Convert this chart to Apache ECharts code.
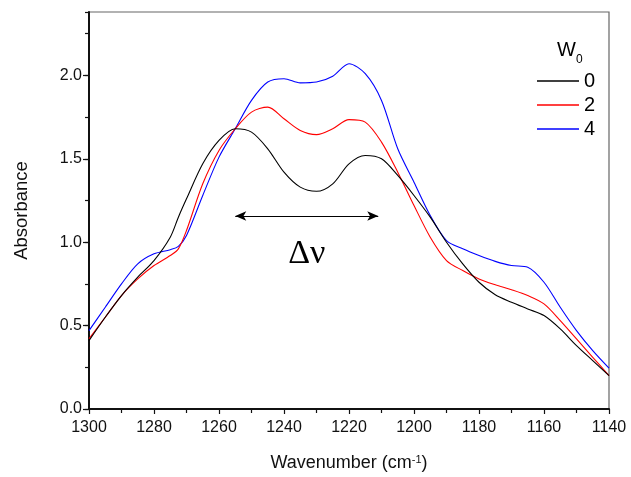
<!DOCTYPE html>
<html>
<head>
<meta charset="utf-8">
<script src="https://cdn.jsdelivr.net/npm/echarts@6/dist/echarts.min.js"></script>
<style>html,body{margin:0;padding:0;background:#fff}#c{width:631px;height:477px}</style>
</head>
<body>
<div id="c"></div>
<script>
// ---- data ----
const wavenumbers = [1300,1295,1290,1285,1280,1275,1272.5,1270,1265,1260,1255,1250,1245,1240,1235,1230,1225,1220,1215,1210,1205,1200,1195,1190,1185,1180,1175,1170,1165,1160,1155,1150,1145,1140];
const absW0 = [0.41,0.55,0.68,0.79,0.89,1.03,1.15,1.26,1.47,1.61,1.68,1.66,1.56,1.42,1.33,1.305,1.35,1.47,1.52,1.50,1.40,1.28,1.15,1.00,0.87,0.76,0.685,0.64,0.60,0.56,0.48,0.38,0.29,0.20];
const absW2 = [0.42,0.55,0.68,0.78,0.86,0.92,0.96,1.07,1.35,1.55,1.68,1.78,1.81,1.74,1.67,1.645,1.68,1.735,1.72,1.60,1.42,1.22,1.03,0.89,0.83,0.78,0.745,0.715,0.68,0.63,0.53,0.42,0.31,0.20];
const absW4 = [0.47,0.61,0.75,0.87,0.93,0.955,0.975,1.04,1.28,1.51,1.68,1.85,1.96,1.98,1.955,1.96,1.995,2.07,2.01,1.85,1.56,1.36,1.16,1.01,0.96,0.92,0.885,0.86,0.85,0.76,0.61,0.47,0.35,0.245];
const seriesNames = ['0','2','4'];
const seriesColors = ['#000000','#ff0000','#0000ff'];
const arrowSpan = [1255, 1211];   // wavenumbers of the double arrow ends
const arrowLevel = 1.157;         // absorbance level of the arrow
const deltaLabelAt = [1233, 0.93];
const xTicks = {min:1140, max:1300, step:20};
const yTicks = {min:0, max:2.38, step:0.5};

const pairs = v => wavenumbers.map((w,i)=>[w, v[i]]);
const allSeries = [absW0, absW2, absW4].map((v,i)=>({
  name: seriesNames[i], type:'line', data: pairs(v), symbol:'none', smooth:0.3,
  lineStyle:{color:seriesColors[i], width:1.1}, itemStyle:{color:seriesColors[i]},
  z: 3 - i
}));
allSeries[0].markLine = {
  silent:true, symbol:['arrow','arrow'], symbolSize:[7,11], animation:false,
  lineStyle:{color:'#000', width:1, type:'solid'}, label:{show:false},
  data:[[{coord:[arrowSpan[0], arrowLevel]},{coord:[arrowSpan[1], arrowLevel]}]]
};
allSeries[0].markPoint = {
  silent:true, symbol:'circle', symbolSize:1, itemStyle:{color:'rgba(0,0,0,0)'}, animation:false,
  label:{show:true, position:'inside', formatter:'Δν', color:'#000', fontFamily:'Liberation Serif', fontSize:34},
  data:[{coord:deltaLabelAt}]
};

const chart = echarts.init(document.getElementById('c'), null, {renderer:'canvas'});
chart.setOption({
  animation:false,
  backgroundColor:'#fff',
  textStyle:{fontFamily:'Liberation Sans, Arial, sans-serif'},
  title:{
    text:'{w|W}{s|0}', left:552, top:35,
    textStyle:{fontWeight:'normal', rich:{
      w:{fontSize:20, color:'#000', fontWeight:'normal', lineHeight:26, verticalAlign:'top', fontFamily:'Liberation Sans'},
      s:{fontSize:12, color:'#000', fontWeight:'normal', lineHeight:6, verticalAlign:'bottom', fontFamily:'Liberation Sans'}
    }}
  },
  legend:{
    orient:'vertical', left:537, top:69, padding:0, itemWidth:42, itemHeight:1.4, itemGap:0,
    icon:'rect',
    textStyle:{fontSize:20, color:'#000', lineHeight:24, fontFamily:'Liberation Sans'},
    data:seriesNames
  },
  grid:{left:89, top:12, right:22, bottom:68, show:true, borderColor:'#666', borderWidth:1.2},
  xAxis:{
    type:'value', inverse:true, min:xTicks.min, max:xTicks.max, interval:xTicks.step,
    axisLine:{show:true, onZero:false, lineStyle:{color:'#111', width:2}},
    axisTick:{show:true, inside:false, length:5, lineStyle:{color:'#111', width:1.2}},
    minorTick:{show:true, splitNumber:2, length:4, lineStyle:{color:'#111', width:1.2}},
    splitLine:{show:false},
    axisLabel:{fontSize:16, color:'#111', margin:11, formatter:v=>String(v)},
    name:'Wavenumber (cm{sup|-1})', nameLocation:'middle', nameGap:45,
    nameTextStyle:{fontSize:18, color:'#111', rich:{sup:{fontSize:11, color:'#111', verticalAlign:'top', lineHeight:10}}}
  },
  yAxis:[{
    type:'value', min:yTicks.min, max:yTicks.max, interval:yTicks.step,
    axisLine:{show:true, onZero:false, lineStyle:{color:'#111', width:2}},
    axisTick:{show:true, length:6, lineStyle:{color:'#111', width:1.2}},
    splitLine:{show:false},
    axisLabel:{fontSize:16, color:'#111', margin:7, showMaxLabel:false, formatter:v=>v.toFixed(1)},
    name:'Absorbance', nameLocation:'middle', nameGap:58,
    nameTextStyle:{fontSize:18.5, color:'#111'}
  },{
    type:'value', min:yTicks.min, max:yTicks.max, interval:yTicks.step/2, position:'left',
    axisLine:{show:false}, axisTick:{show:true, length:4, lineStyle:{color:'#111', width:1.2}},
    axisLabel:{show:false}, splitLine:{show:false}
  }],
  series: allSeries
});
</script>
</body>
</html>
